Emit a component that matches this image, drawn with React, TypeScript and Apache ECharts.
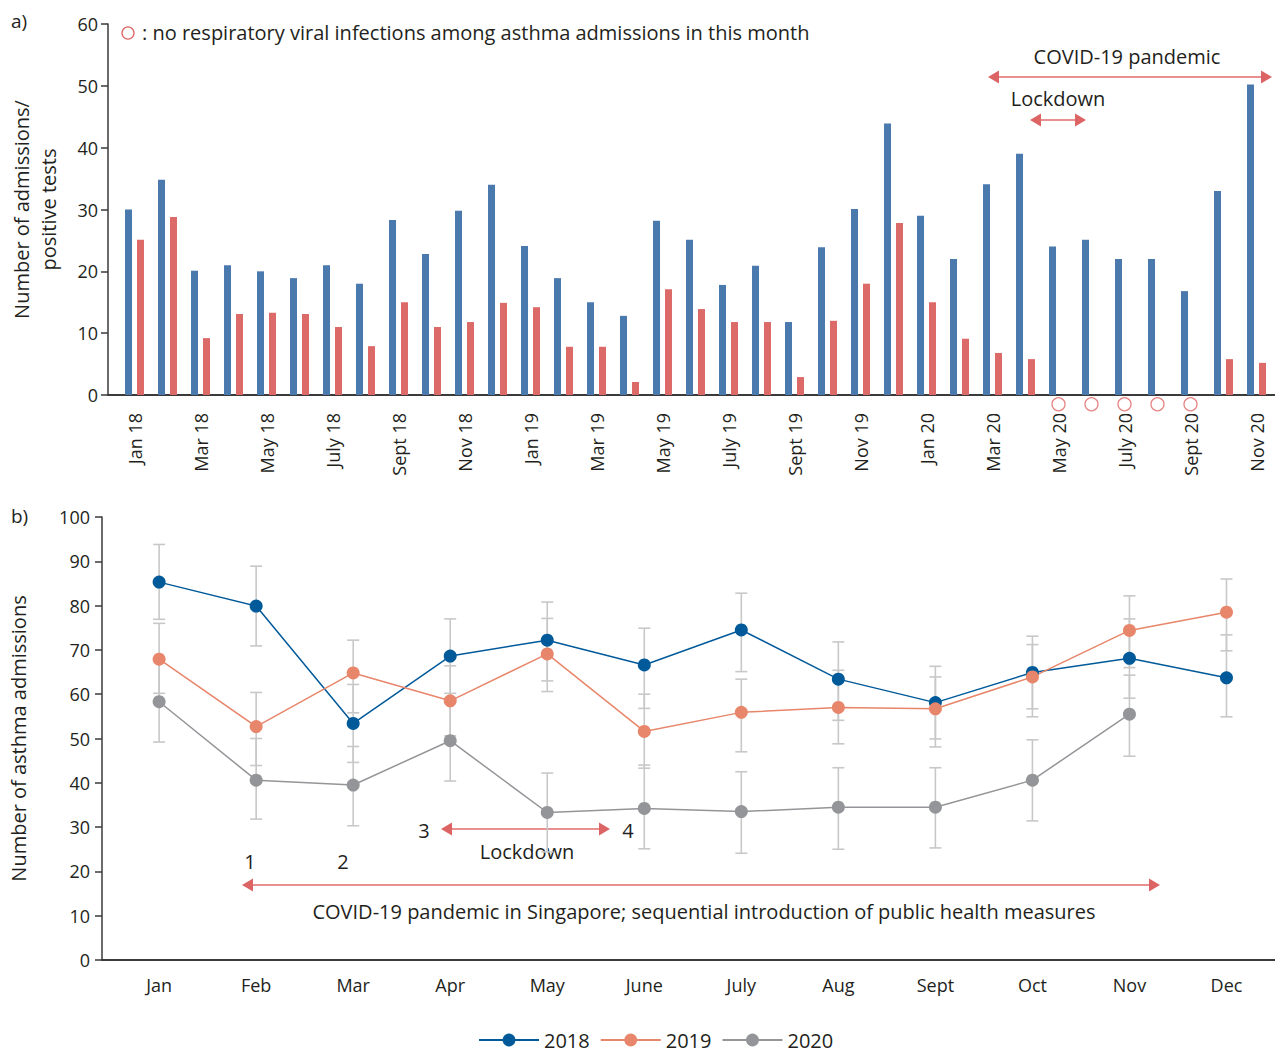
import React, { useEffect, useRef } from "react";
import * as echarts from "echarts";

// ---------- Panel a) data ----------
const months = [
  "Jan 18", "Feb 18", "Mar 18", "Apr 18", "May 18", "June 18", "July 18", "Aug 18", "Sept 18", "Oct 18", "Nov 18", "Dec 18",
  "Jan 19", "Feb 19", "Mar 19", "Apr 19", "May 19", "June 19", "July 19", "Aug 19", "Sept 19", "Oct 19", "Nov 19", "Dec 19",
  "Jan 20", "Feb 20", "Mar 20", "Apr 20", "May 20", "June 20", "July 20", "Aug 20", "Sept 20", "Oct 20", "Nov 20",
];
const admissions = [
  30, 34.8, 20.1, 21, 20, 18.9, 21, 18, 28.3, 22.8, 29.8, 34,
  24.1, 18.9, 15, 12.8, 28.2, 25.1, 17.8, 20.9, 11.8, 23.9, 30.1, 43.9,
  29, 22, 34.1, 39, 24, 25.1, 22, 22, 16.8, 33, 50.2,
];
const positiveTests = [
  25.1, 28.8, 9.2, 13.1, 13.3, 13.1, 11, 7.9, 15, 11, 11.8, 14.9,
  14.2, 7.8, 7.8, 2.1, 17.1, 13.9, 11.8, 11.8, 2.9, 12, 18, 27.8,
  15, 9.1, 6.8, 5.8, 0, 0, 0, 0, 0, 5.8, 5.2,
];
const topTicks = [0, 10, 20, 30, 40, 50, 60];

// ---------- Panel b) data ----------
const monthNames = ["Jan", "Feb", "Mar", "Apr", "May", "June", "July", "Aug", "Sept", "Oct", "Nov", "Dec"];
const years = ["2018", "2019", "2020"];
const mean2018 = [85.3, 79.9, 53.4, 68.6, 72.2, 66.6, 74.5, 63.4, 58.1, 64.9, 68.1, 63.7];
const low2018 = [76.9, 70.9, 44.6, 60.2, 63.0, 56.8, 65.1, 54.1, 49.9, 56.7, 59.1, 54.9];
const high2018 = [93.8, 88.9, 62.2, 77.0, 80.8, 74.9, 82.8, 71.8, 66.3, 73.1, 77.0, 73.4];
const mean2019 = [67.9, 52.7, 64.8, 58.5, 69.1, 51.6, 55.9, 57.0, 56.7, 63.9, 74.4, 78.5];
const low2019 = [60.2, 43.9, 55.8, 50.6, 60.6, 43.3, 47.0, 48.8, 48.1, 54.9, 66.0, 69.8];
const high2019 = [76.0, 60.4, 72.2, 66.4, 77.1, 60.0, 63.4, 65.4, 63.9, 71.2, 82.2, 86.0];
const mean2020 = [58.3, 40.6, 39.5, 49.5, 33.3, 34.2, 33.5, 34.5, 34.5, 40.6, 55.5, null];
const low2020 = [49.2, 31.8, 30.3, 40.4, 24.4, 25.1, 24.1, 25.0, 25.3, 31.4, 46.0, null];
const high2020 = [67.4, 50.0, 48.2, 58.6, 42.2, 44.0, 42.5, 43.4, 43.4, 49.7, 64.3, null];
const bottomTicks = [0, 10, 20, 30, 40, 50, 60, 70, 80, 90, 100];

// ---------- styles ----------
const FONT = "'Open Sans'";
const TXT = "#231f20";
const AXIS = "#3a3a3a";
const BLUE_BAR = "#4a79ae";
const RED_BAR = "#dc6a68";
const C2018 = "#005a9a";
const C2019 = "#e8866b";
const C2020 = "#949598";
const ERR = "#c8c8c8";
const ARROW_LINE = "#e89090";
const ARROW_HEAD = "#dc6464";
const CIRCLE_Y = -1.5;

function arrow(x1: number, x2: number, y: number, left: boolean, right: boolean) {
  const hl = 11;
  const hh = 6.5;
  const els: any[] = [
    {
      type: "line",
      silent: true,
      shape: { x1: left ? x1 + hl - 1 : x1, y1: y, x2: right ? x2 - hl + 1 : x2, y2: y },
      style: { stroke: ARROW_LINE, lineWidth: 2 },
    },
  ];
  if (left)
    els.push({
      type: "polygon",
      silent: true,
      shape: { points: [[x1, y], [x1 + hl, y - hh], [x1 + hl, y + hh]] },
      style: { fill: ARROW_HEAD },
    });
  if (right)
    els.push({
      type: "polygon",
      silent: true,
      shape: { points: [[x2, y], [x2 - hl, y - hh], [x2 - hl, y + hh]] },
      style: { fill: ARROW_HEAD },
    });
  return els;
}

function label(text: string, x: number, y: number, size = 20, align = "center") {
  return {
    type: "text",
    silent: true,
    x,
    y,
    style: { text, fill: TXT, font: `${size}px ${FONT}`, align, verticalAlign: "middle" },
  };
}

function errSeries(name: string, lows: (number | null)[], highs: (number | null)[]) {
  const data: any[] = [];
  lows.forEach((lo, i) => {
    const hi = highs[i];
    if (lo != null && hi != null) data.push([i, lo, hi]);
  });
  return {
    type: "custom",
    name: name + " CI",
    xAxisIndex: 3,
    yAxisIndex: 3,
    z: 1,
    silent: true,
    data,
    renderItem: (params: any, api: any) => {
      const x = api.value(0);
      const p1 = api.coord([x, api.value(1)]);
      const p2 = api.coord([x, api.value(2)]);
      const w = 6;
      const st = { stroke: ERR, lineWidth: 1.6 };
      return {
        type: "group",
        children: [
          { type: "line", shape: { x1: p1[0], y1: p1[1], x2: p2[0], y2: p2[1] }, style: st },
          { type: "line", shape: { x1: p1[0] - w, y1: p1[1], x2: p1[0] + w, y2: p1[1] }, style: st },
          { type: "line", shape: { x1: p2[0] - w, y1: p2[1], x2: p2[0] + w, y2: p2[1] }, style: st },
        ],
      };
    },
  };
}

function lineSeries(name: string, data: (number | null)[], color: string) {
  return {
    type: "line",
    name,
    xAxisIndex: 3,
    yAxisIndex: 3,
    z: 3,
    data,
    symbol: "circle",
    symbolSize: 13,
    showSymbol: true,
    connectNulls: false,
    lineStyle: { color, width: 1.5 },
    itemStyle: { color },
    silent: true,
  };
}

export default function App() {
  const ref = useRef<HTMLDivElement>(null);
  useEffect(() => {
    if (!ref.current) return;
    const chart = echarts.init(ref.current, undefined, { renderer: "svg" });

    const noInfection = months
      .map((m, i) => (positiveTests[i] === 0 ? [m, CIRCLE_Y] : null))
      .filter((d) => d !== null);

    const axisLabelStyle = { color: TXT, fontSize: 18, fontFamily: FONT };

    const option: any = {
      animation: false,
      textStyle: { fontFamily: FONT },
      grid: [
        { left: 101, right: 0, top: 24, height: 371 },
        { left: 118, width: 35 * 33, top: 24, height: 371 },
        { left: 102, right: 0, top: 517, height: 443 },
        { left: 110.6, width: 12 * 97.34, top: 517, height: 443 },
      ],
      xAxis: [
        {
          type: "value",
          gridIndex: 0,
          min: 0,
          max: 1,
          axisLine: { show: true, lineStyle: { color: AXIS, width: 2 } },
          axisTick: { show: false },
          axisLabel: { show: false },
          splitLine: { show: false },
        },
        {
          type: "category",
          gridIndex: 1,
          data: months,
          axisLine: { show: false },
          axisTick: { show: false },
          axisLabel: { ...axisLabelStyle, interval: 1, rotate: 90, margin: 18 },
          splitLine: { show: false },
        },
        {
          type: "value",
          gridIndex: 2,
          min: 0,
          max: 1,
          axisLine: { show: true, lineStyle: { color: AXIS, width: 2 } },
          axisTick: { show: false },
          axisLabel: { show: false },
          splitLine: { show: false },
        },
        {
          type: "category",
          gridIndex: 3,
          data: monthNames,
          axisLine: { show: false },
          axisTick: { show: false },
          axisLabel: { ...axisLabelStyle, interval: 0, margin: 16 },
          splitLine: { show: false },
        },
      ],
      yAxis: [
        {
          type: "value",
          gridIndex: 0,
          min: topTicks[0],
          max: topTicks[topTicks.length - 1],
          interval: 10,
          axisLine: { show: true, lineStyle: { color: AXIS, width: 1.5 } },
          axisTick: { show: true, length: 7, lineStyle: { color: AXIS, width: 1.5 } },
          axisLabel: { ...axisLabelStyle, margin: 10 },
          splitLine: { show: false },
          name: "Number of admissions/\npositive tests",
          nameLocation: "middle",
          nameRotate: 90,
          nameGap: 46,
          nameTextStyle: { color: TXT, fontSize: 20, fontFamily: FONT, lineHeight: 27 },
        },
        { type: "value", gridIndex: 1, min: 0, max: 60, show: false },
        {
          type: "value",
          gridIndex: 2,
          min: bottomTicks[0],
          max: bottomTicks[bottomTicks.length - 1],
          interval: 10,
          axisLine: { show: true, lineStyle: { color: AXIS, width: 1.5 } },
          axisTick: { show: true, length: 7, lineStyle: { color: AXIS, width: 1.5 } },
          axisLabel: { ...axisLabelStyle, margin: 12 },
          splitLine: { show: false },
          name: "Number of asthma admissions",
          nameLocation: "middle",
          nameRotate: 90,
          nameGap: 74,
          nameTextStyle: { color: TXT, fontSize: 20, fontFamily: FONT },
        },
        { type: "value", gridIndex: 3, min: 0, max: 100, show: false },
      ],
      legend: {
        data: years,
        top: 1025,
        left: 473,
        itemWidth: 60,
        itemHeight: 16,
        itemGap: 10,
        selectedMode: false,
        textStyle: { color: TXT, fontSize: 20, fontFamily: FONT },
      },
      series: [
        {
          type: "bar",
          name: "Admissions",
          xAxisIndex: 1,
          yAxisIndex: 1,
          data: admissions,
          barWidth: 7,
          barGap: "71%",
          itemStyle: { color: BLUE_BAR },
          silent: true,
        },
        {
          type: "bar",
          name: "Positive tests",
          xAxisIndex: 1,
          yAxisIndex: 1,
          data: positiveTests,
          barWidth: 7,
          barGap: "71%",
          itemStyle: { color: RED_BAR },
          silent: true,
        },
        {
          type: "scatter",
          name: "No viral infection",
          xAxisIndex: 1,
          yAxisIndex: 1,
          data: noInfection,
          symbol: "circle",
          symbolSize: 13,
          clip: false,
          itemStyle: { color: "#ffffff", borderColor: "#e06464", borderWidth: 1.3 },
          silent: true,
        },
        errSeries("2018", low2018, high2018),
        errSeries("2019", low2019, high2019),
        errSeries("2020", low2020, high2020),
        lineSeries("2018", mean2018, C2018),
        lineSeries("2019", mean2019, C2019),
        lineSeries("2020", mean2020, C2020),
      ],
      graphic: [
        label("a)", 11, 21, 19, "left"),
        label("b)", 11, 516, 19, "left"),
        {
          type: "circle",
          silent: true,
          shape: { cx: 128, cy: 33, r: 6 },
          style: { fill: "#fff", stroke: "#e06464", lineWidth: 1.3 },
        },
        label(": no respiratory viral infections among asthma admissions in this month", 142, 32, 20, "left"),
        label("COVID-19 pandemic", 1127, 56, 20),
        ...arrow(988, 1272, 77, true, true),
        label("Lockdown", 1058, 98, 20),
        ...arrow(1030, 1086, 120, true, true),
        label("1", 250, 861, 20),
        label("2", 343, 861, 20),
        label("3", 424, 830, 20),
        label("4", 628, 830, 20),
        ...arrow(441, 610, 829, true, true),
        label("Lockdown", 527, 851, 20),
        ...arrow(242, 1160, 885, true, true),
        label("COVID-19 pandemic in Singapore; sequential introduction of public health measures", 704, 911, 20),
      ],
    };
    chart.setOption(option);
    return () => chart.dispose();
  }, []);
  return (
    <div
      ref={ref}
      style={{ position: "fixed", left: 0, top: 0, width: 1275, height: 1052, background: "#fff" }}
    />
  );
}
